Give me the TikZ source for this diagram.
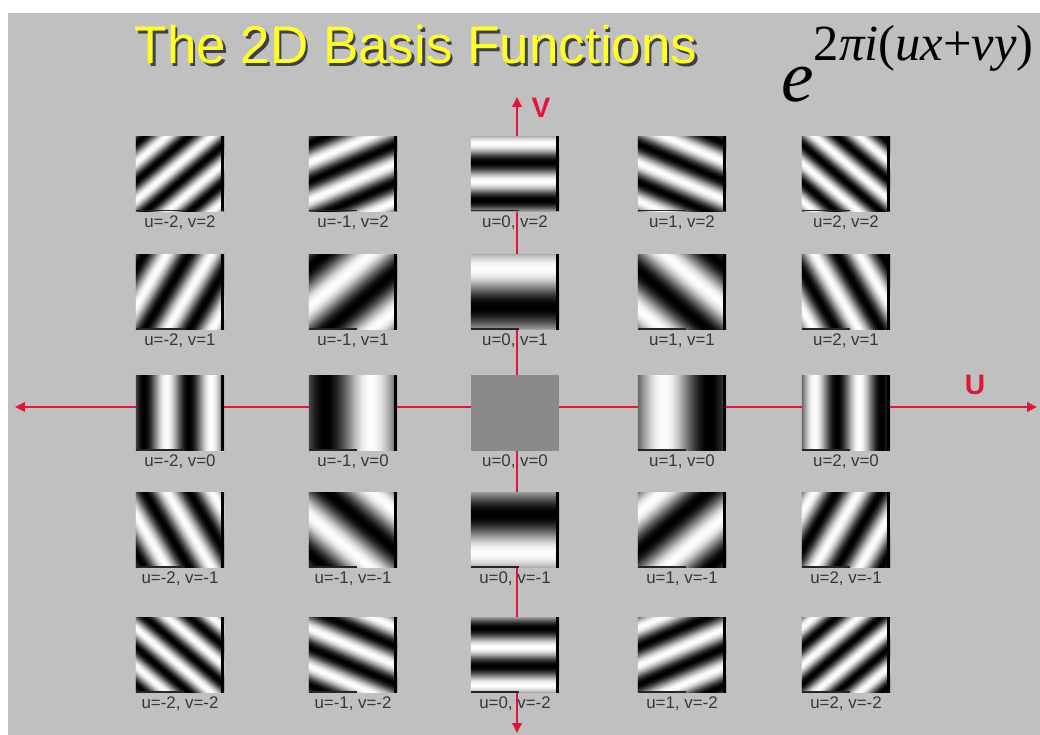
\documentclass[tikz,border=0pt]{standalone}
\usepackage{fontspec}
\setmainfont{Liberation Sans}
\newfontfamily\formfont{Liberation Serif}
\usetikzlibrary{positioning, arrows.meta}
\definecolor{SlideGray}{RGB}{192,192,192}
\definecolor{MidGray}{RGB}{138,138,138}
\definecolor{AxisRed}{RGB}{225,20,60}
\definecolor{TitleYellow}{RGB}{255,255,40}
\definecolor{LabelGray}{RGB}{55,55,55}

% cosine grating inside a tile: u, v, phase (deg)
\newcommand{\grating}[3]{%
  \pgfmathsetmacro{\gfx}{(#1)/88}%
  \pgfmathsetmacro{\gfy}{(#2)/75}%
  \pgfmathsetmacro{\gfreq}{360*sqrt(\gfx*\gfx+\gfy*\gfy)}%
  \ifdim\gfreq pt>0pt
    \pgfmathsetmacro{\gang}{atan2(\gfy,\gfx)}%
    \pgfmathsetmacro{\gup}{\gang+90}%
    \pgfmathsetmacro{\gdn}{\gang-90}%
    \pgfmathsetmacro{\gbk}{\gang+180}%
    \pgfmathsetmacro{\goff}{180*((#1)-(#2))+(#3)}%
    \coordinate (gc) at (path picture bounding box.center);
    \foreach \s in {-60,-59,...,60}{%
      \pgfmathtruncatemacro{\g}{50+50*cos(\gfreq*(\s+0.5)+\goff)}%
      \pgfmathsetmacro{\sa}{\s-0.2}%
      \fill[white!\g!black] (gc) ++(\gang:\sa) ++(\gup:62) -- ++(\gang:1.4)
        -- ++(\gdn:124) -- ++(\gbk:1.4) -- cycle;
    }
    \fill[black] ([xshift=-2.1pt] path picture bounding box.north east) rectangle (path picture bounding box.south east);
    \fill[black!85] (path picture bounding box.south west) rectangle ([xshift=1.2cm, yshift=0.8pt] path picture bounding box.south west);
  \else
    \fill[MidGray] (path picture bounding box.south west) rectangle (path picture bounding box.north east);
  \fi}

% title text with its drop shadow
\newcommand{\shadowtext}[1]{%
  \makebox[0pt][l]{\hspace{1.8pt}\raisebox{-1.8pt}{\color{black!75}#1}}#1}

\begin{document}
\begin{tikzpicture}[x=0.025cm, y=0.025cm,
    tile/.style={rectangle, inner sep=0pt, minimum width=2.2cm, minimum height=1.875cm},
    lbl/.style={font=\fontsize{12}{13}\selectfont, text=LabelGray, inner sep=0.5pt},
    axis/.style={AxisRed, line width=2.1pt,
                 {Triangle[length=7pt,width=6.5pt]}-{Triangle[length=7pt,width=6.5pt]}},
    axlbl/.style={font=\fontsize{20}{20}\selectfont\bfseries, text=AxisRed},
    ttl/.style={font=\fontsize{37.7}{40}\selectfont}
  ]
  % slide background
  \useasboundingbox (0,0) rectangle (1040,735);
  \fill[white] (0,0) rectangle (1040,735);
  \fill[SlideGray] (8,0) rectangle (1040,722);

  % title and formula
  \node[ttl, text=TitleYellow] (title) at (416,689) {\shadowtext{The 2D Basis Functions}};
  \node[anchor=base west, inner sep=0pt, font=\formfont\fontsize{52}{52}\selectfont] (formula) at (781,633)
    {\textit{e}\raisebox{29.5pt}{\fontsize{36}{36}\selectfont 2\textit{πi}(\textit{ux}+\textit{vy})}};

  % axes
  \coordinate (uneg) at (15,328);
  \coordinate (upos) at (1037,328);
  \coordinate (vpos) at (517,638);
  \coordinate (vneg) at (517,2);
  \draw[axis] (uneg) -- (upos);
  \draw[axis] (vneg) -- (vpos);
  \node[axlbl] (ulab) at (975,350) {U};
  \node[axlbl] (vlab) at (541,627) {V};

  % basis tiles
  \foreach \u/\x in {-2/180,-1/353,0/515,1/682,2/846}
    \foreach \v/\y in {2/561,1/443,0/322,-1/205,-2/80}{
      \pgfmathsetmacro{\ph}{ifthenelse(\u==0,72,-108)}
      \node[tile, path picture={\grating{\u}{\v}{\ph}}] (g\u\v) at (\x,\y) {};
      \node[lbl, below=2pt of g\u\v] (l\u\v) {u=\u, v=\v};
    }
\end{tikzpicture}
\end{document}
